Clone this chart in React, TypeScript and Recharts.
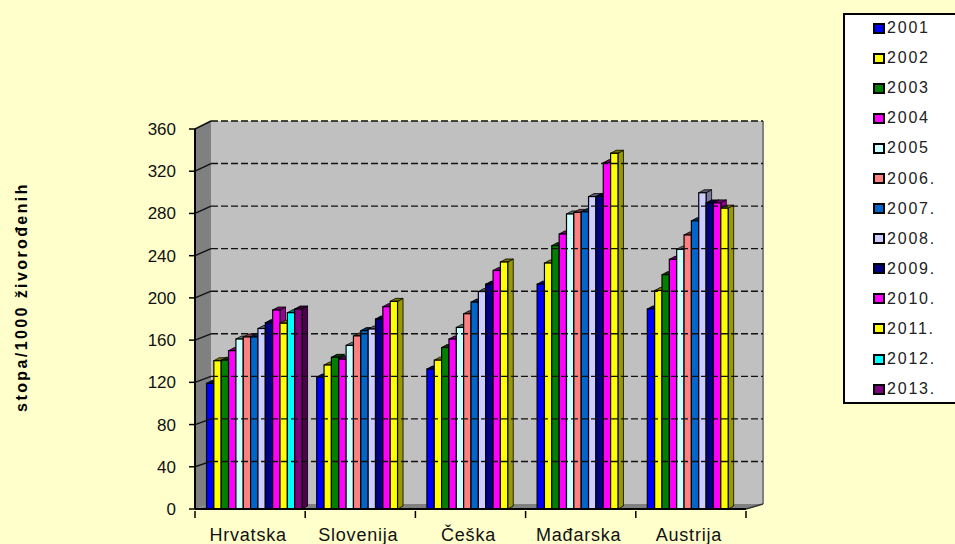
import React from 'react';
import { BarChart, Bar, XAxis, YAxis, Legend, ReferenceArea, ReferenceLine, Label } from 'recharts';

const countries = ['Hrvatska', 'Slovenija', 'Češka', 'Mađarska', 'Austrija'];
const yTicks = [0, 40, 80, 120, 160, 200, 240, 280, 320, 360];
const gridTicks = yTicks.slice(1);

const s2001 = [119, 125, 132.6, 213, 189.5];
const s2002 = [140.5, 136.4, 141, 233, 207];
const s2003 = [141, 143.7, 153, 249.5, 222];
const s2004 = [150, 142, 161, 260.5, 236.5];
const s2005 = [161, 155, 172, 279.5, 246];
const s2006 = [163, 164, 185, 281, 259.6];
const s2007 = [163, 169, 196, 281.6, 273];
const s2008 = [171, 170.5, 206, 296, 299.6];
const s2009 = [176.5, 180, 213, 296, 290];
const s2010 = [188.5, 191.7, 226, 328, 290];
const s2011 = [176, 196.7, 234, 337, 285];
const s2012 = [186, null, null, null, null];
const s2013 = [189.5, null, null, null, null];

const series = [
  { key: 'a', name: '2001', values: s2001, color: '#0000FF' },
  { key: 'b', name: '2002', values: s2002, color: '#FFFF00' },
  { key: 'c', name: '2003', values: s2003, color: '#008000' },
  { key: 'd', name: '2004', values: s2004, color: '#FF00FF' },
  { key: 'e', name: '2005', values: s2005, color: '#CCFFFF' },
  { key: 'f', name: '2006.', values: s2006, color: '#FF8080' },
  { key: 'g', name: '2007.', values: s2007, color: '#0066CC' },
  { key: 'h', name: '2008.', values: s2008, color: '#CCCCFF' },
  { key: 'i', name: '2009.', values: s2009, color: '#000080' },
  { key: 'j', name: '2010.', values: s2010, color: '#FF00FF' },
  { key: 'k', name: '2011.', values: s2011, color: '#FFFF00' },
  { key: 'l', name: '2012.', values: s2012, color: '#00FFFF' },
  { key: 'm', name: '2013.', values: s2013, color: '#800080' },
];

const data = countries.map((name, i) => {
  const row: any = { name };
  series.forEach((s) => {
    row[s.key] = s.values[i];
  });
  return row;
});

const FONT = '"Liberation Sans", Arial, sans-serif';
const DEPTH_X = 16;
const DEPTH_Y = 8;

// fake 3D box, the way Excel draws it
const Bar3D = (props: any) => {
  const { x, y, width, height, fill } = props;
  if (!height || height <= 0) return null;
  const bx = x + 4.5;
  const dx = 5.5;
  const dy = 3;
  const side = `${bx + width},${y} ${bx + width + dx},${y - dy} ${bx + width + dx},${y + height - dy} ${bx + width},${y + height}`;
  const top = `${bx},${y} ${bx + dx},${y - dy} ${bx + width + dx},${y - dy} ${bx + width},${y}`;
  return (
    <g>
      <polygon points={side} fill={fill} />
      <polygon points={side} fill="#000" fillOpacity={0.4} stroke="#000" strokeWidth={0.8} />
      <polygon points={top} fill={fill} />
      <polygon points={top} fill="#000" fillOpacity={0.55} stroke="#000" strokeWidth={0.8} />
      <rect x={bx} y={y} width={width} height={height} fill={fill} stroke="#000" strokeWidth={1.2} />
    </g>
  );
};

const Walls = (props: any) => {
  const { x, y, width, height } = props;
  const right = x + width;
  const bottom = y + height;
  return (
    <g>
      <polygon
        points={`${x},${y} ${x + DEPTH_X},${y - DEPTH_Y} ${x + DEPTH_X},${bottom - 5} ${x},${bottom}`}
        fill="#808080"
      />
      <rect x={x + DEPTH_X} y={y - DEPTH_Y} width={width + 1} height={height + DEPTH_Y - 5} fill="#C0C0C0" />
      <polygon
        points={`${x},${bottom} ${x + DEPTH_X},${bottom - 5} ${right + 17},${bottom - 5} ${right},${bottom}`}
        fill="#808080"
      />
      <line x1={right + 17} y1={y - DEPTH_Y} x2={right + 17} y2={bottom - 5} stroke="#808080" strokeWidth={2} />
      <line x1={right} y1={bottom} x2={right + 17} y2={bottom - 5} stroke="#333" strokeWidth={1.5} />
    </g>
  );
};

// back wall is slightly squeezed against the front scale
const GridLine = (props: any) => {
  const { x1, y1, x2, tickValue } = props;
  const backY = y1 - (5 + (3 * tickValue) / 360);
  return (
    <g>
      <line x1={x1} y1={y1} x2={x1 + DEPTH_X} y2={backY} stroke="#111" strokeWidth={1.4} />
      <line x1={x1 + DEPTH_X} y1={backY} x2={x2 + 17} y2={backY} stroke="#111" strokeWidth={1.4} strokeDasharray="7 3" />
    </g>
  );
};

const CategoryTick = (props: any) => {
  const { x, y, payload, index } = props;
  const half = payload.offset || 55;
  const last = index === countries.length - 1;
  return (
    <g>
      <line x1={x - half} y1={y - 8} x2={x - half} y2={y - 1} stroke="#000" strokeWidth={1.5} />
      {last && <line x1={x + half} y1={y - 8} x2={x + half} y2={y - 1} stroke="#000" strokeWidth={1.5} />}
      <text x={x - 2} y={y + 22} textAnchor="middle" fontFamily={FONT} fontSize={18} fill="#111" letterSpacing={0.8}>
        {payload.value}
      </text>
    </g>
  );
};

const AxisTitle = () => (
  <text
    transform="translate(27,297) rotate(-90)"
    textAnchor="middle"
    fontFamily={FONT}
    fontSize={16}
    fontWeight="bold"
    letterSpacing={2.4}
    fill="#000"
  >
    stopa/1000 živorođenih
  </text>
);

const LegendBox = (props: any) => (
  <div
    style={{
      boxSizing: 'border-box',
      width: 130,
      height: 391,
      background: '#fff',
      border: '2px solid #000',
    }}
  >
    {props.payload.map((item: any) => (
      <div key={item.value} style={{ display: 'flex', alignItems: 'center', height: 30.1, marginLeft: 28, position: 'relative', top: -2 }}>
        <span style={{ boxSizing: 'border-box', width: 12, height: 11, background: item.color, border: '2px solid #000', marginRight: 2 }} />
        <span style={{ fontFamily: FONT, fontSize: 16, letterSpacing: 1.8, color: '#222' }}>{item.value}</span>
      </div>
    ))}
  </div>
);

export default function App() {
  return (
    <div style={{ position: 'absolute', left: 0, top: 0, width: 955, height: 544, overflow: 'hidden', background: '#FFFFCC' }}>
      <BarChart
        width={955}
        height={544}
        data={data}
        margin={{ top: 129, right: 209, bottom: 0, left: 145 }}
        barGap={0}
      >
        <XAxis
          dataKey="name"
          height={35}
          axisLine={{ stroke: '#000', strokeWidth: 2 }}
          tickLine={false}
          tickSize={8}
          tick={<CategoryTick />}
          interval={0}
        />
        <YAxis
          width={50}
          domain={[0, 360]}
          ticks={yTicks}
          interval={0}
          axisLine={{ stroke: '#000', strokeWidth: 2 }}
          tickLine={{ stroke: '#000', strokeWidth: 1.5 }}
          tickSize={6}
          tickMargin={13}
          tick={{ fontFamily: FONT, fontSize: 17, fill: '#111' }}
        >
          <Label content={<AxisTitle />} />
        </YAxis>
        <ReferenceArea y1={0} y2={360} shape={<Walls />} ifOverflow="visible" />
        {gridTicks.map((t) => (
          <ReferenceLine key={t} y={t} shape={<GridLine tickValue={t} />} ifOverflow="visible" />
        ))}
        <Legend
          layout="horizontal"
          verticalAlign="middle"
          align="center"
          content={<LegendBox />}
          wrapperStyle={{ position: 'absolute', left: 843, top: 13, width: 130, margin: 0 }}
        />
        {series.map((s) => (
          <Bar key={s.key} dataKey={s.key} name={s.name} fill={s.color} barSize={7.35} shape={<Bar3D />} isAnimationActive={false} />
        ))}
      </BarChart>
    </div>
  );
}
